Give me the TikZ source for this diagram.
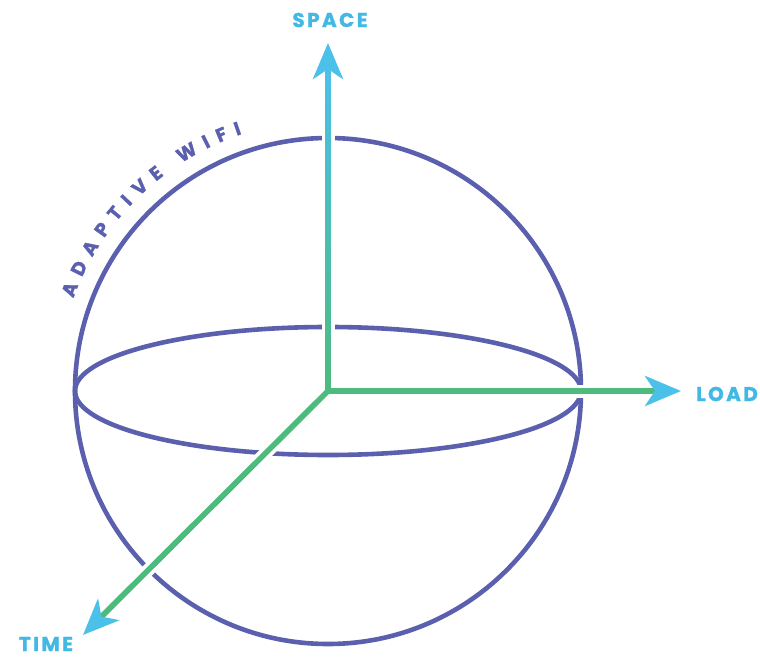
\documentclass[tikz,border=0pt]{standalone}
\usepackage{fontspec}
\usetikzlibrary{arrows.meta,decorations.text,calc}
\newfontfamily\axisfont[LetterSpace=12,BoldFeatures={FakeBold=1.2}]{Poppins}
\newfontfamily\arcfont[BoldFeatures={FakeBold=1.2}]{Poppins}
\definecolor{spherecol}{RGB}{90,96,174}
\definecolor{axgreen}{RGB}{76,187,125}
\definecolor{axblue}{RGB}{75,192,232}
\definecolor{labelblue}{RGB}{66,184,228}
\tikzset{
  rim/.style={draw=spherecol, line width=4.6pt},
  halo/.style={draw=white, line width=13pt},
  axis/.style={draw=axgreen, line width=5.6pt},
  axlabel/.style={font=\axisfont\bfseries\fontsize{20}{20}\selectfont, text=labelblue, inner sep=0pt}
}
\begin{document}
\begin{tikzpicture}[x=1pt,y=1pt,>={Stealth[length=36pt,width=30pt,inset=10pt,color=axblue]}]
\useasboundingbox (0,0) rectangle (760,657);
\coordinate (o) at (328,266);
\coordinate (sp) at (328,614);
\coordinate (ld) at (681,266);
\coordinate (tm) at (83,22);
% sphere
\draw[rim] (o) circle[radius=253];
\draw[rim] (o) ellipse[x radius=253, y radius=64];
% label round the rim
\path[decorate, decoration={text along path, text align={fit to path}, text color=spherecol,
  text={|\arcfont\bfseries\fontsize{19}{19}\selectfont|ADAPTIVE WIFI}}]
  ($(o)+(160:271)$) arc[start angle=160, end angle=108.5, radius=271];
% axes
\draw[halo] (o) -- (sp);
\draw[halo] (o) -- (ld);
\draw[halo] (o) -- (tm);
\shade[bottom color=axgreen, top color=axblue] ($(o)+(-2.8,-2.8)$) rectangle ($(sp)+(2.8,-30)$);
\draw[axis, draw=axblue, ->] ($(sp)+(0,-44)$) -- (sp);
\draw[axis, ->] (o) -- (ld);
\draw[axis, ->] (o) -- (tm);
% labels
\node[axlabel] (spacelbl) at (330,637) {SPACE};
\node[axlabel] (loadlbl) at (727,263) {LOAD};
\node[axlabel] (timelbl) at (46,13) {TIME};
\end{tikzpicture}
\end{document}
